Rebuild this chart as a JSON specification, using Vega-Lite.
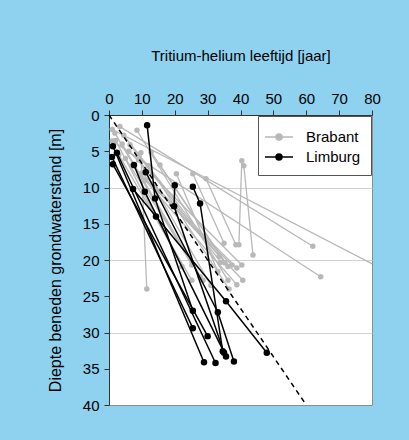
{
  "$schema": "https://vega.github.io/schema/vega-lite/v6.json",
  "width": 263,
  "height": 290,
  "autosize": {"type": "none"},
  "padding": {"left": 109, "top": 115, "right": 37, "bottom": 35},
  "background": "#8ed2f0",
  "config": {
    "font": "Liberation Sans",
    "view": {"fill": "white", "stroke": "#8c8c8c", "strokeWidth": 1}
  },
  "datasets": {
    "wells": [
      {"g": "Brabant", "w": "B1", "x": 1.0, "y": 2.0},
      {"g": "Brabant", "w": "B1", "x": 88.0, "y": 22.4},
      {"g": "Brabant", "w": "B2", "x": 1.0, "y": 3.6},
      {"g": "Brabant", "w": "B2", "x": 64.4, "y": 22.3},
      {"g": "Brabant", "w": "B3", "x": 3.3, "y": 1.6},
      {"g": "Brabant", "w": "B3", "x": 62.0, "y": 18.1},
      {"g": "Brabant", "w": "B4", "x": 1.8, "y": 2.5},
      {"g": "Brabant", "w": "B4", "x": 25.2, "y": 20.7},
      {"g": "Brabant", "w": "B5", "x": 2.0, "y": 3.5},
      {"g": "Brabant", "w": "B5", "x": 22.2, "y": 20.9},
      {"g": "Brabant", "w": "B6", "x": 4.0, "y": 4.0},
      {"g": "Brabant", "w": "B6", "x": 27.7, "y": 22.3},
      {"g": "Brabant", "w": "B7", "x": 3.0, "y": 5.5},
      {"g": "Brabant", "w": "B7", "x": 25.2, "y": 22.8},
      {"g": "Brabant", "w": "B8", "x": 5.0, "y": 6.0},
      {"g": "Brabant", "w": "B8", "x": 28.6, "y": 22.8},
      {"g": "Brabant", "w": "B9", "x": 6.4, "y": 4.1},
      {"g": "Brabant", "w": "B9", "x": 34.0, "y": 20.3},
      {"g": "Brabant", "w": "B10", "x": 9.7, "y": 5.2},
      {"g": "Brabant", "w": "B10", "x": 11.5, "y": 24.0},
      {"g": "Brabant", "w": "B11", "x": 12.8, "y": 5.1},
      {"g": "Brabant", "w": "B11", "x": 35.3, "y": 20.4},
      {"g": "Brabant", "w": "B12", "x": 8.5, "y": 2.1},
      {"g": "Brabant", "w": "B12", "x": 36.2, "y": 22.8},
      {"g": "Brabant", "w": "B13", "x": 15.5, "y": 6.9},
      {"g": "Brabant", "w": "B13", "x": 36.2, "y": 20.9},
      {"g": "Brabant", "w": "B14", "x": 20.5, "y": 8.1},
      {"g": "Brabant", "w": "B14", "x": 33.1, "y": 21.6},
      {"g": "Brabant", "w": "B15", "x": 25.5, "y": 8.1},
      {"g": "Brabant", "w": "B15", "x": 35.0, "y": 17.7},
      {"g": "Brabant", "w": "B16", "x": 29.5, "y": 8.8},
      {"g": "Brabant", "w": "B16", "x": 38.6, "y": 17.9},
      {"g": "Brabant", "w": "B17", "x": 40.4, "y": 6.3},
      {"g": "Brabant", "w": "B17", "x": 39.5, "y": 17.9},
      {"g": "Brabant", "w": "B18", "x": 41.0, "y": 7.0},
      {"g": "Brabant", "w": "B18", "x": 43.8, "y": 19.3},
      {"g": "Brabant", "w": "B19", "x": 7.0, "y": 7.0},
      {"g": "Brabant", "w": "B19", "x": 37.4, "y": 20.7},
      {"g": "Brabant", "w": "B20", "x": 10.0, "y": 8.0},
      {"g": "Brabant", "w": "B20", "x": 38.9, "y": 21.1},
      {"g": "Brabant", "w": "B21", "x": 6.0, "y": 5.0},
      {"g": "Brabant", "w": "B21", "x": 40.4, "y": 20.7},
      {"g": "Brabant", "w": "B22", "x": 11.0, "y": 9.0},
      {"g": "Brabant", "w": "B22", "x": 38.9, "y": 23.4},
      {"g": "Brabant", "w": "B23", "x": 14.0, "y": 10.0},
      {"g": "Brabant", "w": "B23", "x": 40.7, "y": 22.8},
      {"g": "Brabant", "w": "B24", "x": 12.0, "y": 7.0},
      {"g": "Brabant", "w": "B24", "x": 36.5, "y": 24.0},
      {"g": "Brabant", "w": "B25", "x": 4.5, "y": 2.8},
      {"g": "Brabant", "w": "B25", "x": 33.5, "y": 19.5},
      {"g": "Brabant", "w": "B26", "x": 9.0, "y": 6.2},
      {"g": "Brabant", "w": "B26", "x": 31.0, "y": 23.5},
      {"g": "Limburg", "w": "L1", "x": 11.6, "y": 1.4},
      {"g": "Limburg", "w": "L1", "x": 14.0, "y": 11.5},
      {"g": "Limburg", "w": "L1", "x": 25.5, "y": 27.0},
      {"g": "Limburg", "w": "L2", "x": 1.2, "y": 4.3},
      {"g": "Limburg", "w": "L2", "x": 28.9, "y": 34.1},
      {"g": "Limburg", "w": "L3", "x": 2.4, "y": 5.2},
      {"g": "Limburg", "w": "L3", "x": 32.4, "y": 34.2},
      {"g": "Limburg", "w": "L4", "x": 0.9, "y": 5.8},
      {"g": "Limburg", "w": "L4", "x": 25.5, "y": 29.4},
      {"g": "Limburg", "w": "L5", "x": 1.2, "y": 6.8},
      {"g": "Limburg", "w": "L5", "x": 30.0, "y": 30.5},
      {"g": "Limburg", "w": "L6", "x": 7.6, "y": 6.9},
      {"g": "Limburg", "w": "L6", "x": 10.9, "y": 10.6},
      {"g": "Limburg", "w": "L6", "x": 35.6, "y": 33.3},
      {"g": "Limburg", "w": "L7", "x": 11.2, "y": 7.9},
      {"g": "Limburg", "w": "L7", "x": 33.1, "y": 27.2},
      {"g": "Limburg", "w": "L7", "x": 38.0, "y": 34.0},
      {"g": "Limburg", "w": "L8", "x": 7.3, "y": 10.2},
      {"g": "Limburg", "w": "L8", "x": 14.3, "y": 14.0},
      {"g": "Limburg", "w": "L8", "x": 35.6, "y": 25.7},
      {"g": "Limburg", "w": "L8", "x": 48.0, "y": 32.8},
      {"g": "Limburg", "w": "L9", "x": 20.0, "y": 9.7},
      {"g": "Limburg", "w": "L9", "x": 19.8, "y": 12.6},
      {"g": "Limburg", "w": "L9", "x": 35.0, "y": 32.8},
      {"g": "Limburg", "w": "L10", "x": 25.5, "y": 9.9},
      {"g": "Limburg", "w": "L10", "x": 27.7, "y": 12.2},
      {"g": "Limburg", "w": "L10", "x": 34.6, "y": 32.6}
    ],
    "trend": [{"x": 0, "y": 0}, {"x": 60, "y": 40}]
  },
  "encoding": {
    "x": {
      "field": "x", "type": "quantitative",
      "scale": {"domain": [0, 80], "nice": false, "zero": false},
      "axis": {
        "orient": "top", "values": [0, 10, 20, 30, 40, 50, 60, 70, 80],
        "title": "Tritium-helium leeftijd [jaar]",
        "labelFontSize": 15, "titleFontSize": 15, "titleFontWeight": "normal",
        "labelColor": "black", "titleColor": "black",
        "domainColor": "#333", "tickColor": "#333", "tickSize": 5,
        "labelPadding": 4, "titlePadding": 28, "grid": false, "labelAngle": 0, "labelFlush": false
      }
    },
    "y": {
      "field": "y", "type": "quantitative",
      "scale": {"domain": [0, 40], "nice": false, "reverse": true, "zero": false},
      "axis": {
        "values": [0, 5, 10, 15, 20, 25, 30, 35, 40],
        "title": "Diepte beneden grondwaterstand [m]",
        "labelFontSize": 15, "titleFontSize": 16, "titleFontWeight": "normal",
        "labelColor": "black", "titleColor": "black",
        "domainColor": "#333", "tickColor": "#333", "tickSize": 5,
        "labelPadding": 5, "titlePadding": 19, "labelFlush": false,
        "grid": true, "gridColor": "#d2d2d2", "gridWidth": 1,
        "gridOpacity": {"condition": {"test": "datum.value === 10 || datum.value === 20 || datum.value === 30", "value": 1}, "value": 0}
      }
    }
  },
  "layer": [
    {
      "data": {"name": "wells"},
      "transform": [{"filter": "datum.g === 'Brabant'"}],
      "mark": {"type": "line", "strokeWidth": 1.3, "clip": true},
      "encoding": {
        "detail": {"field": "w"},
        "order": {"field": "y"},
        "color": {
          "field": "g", "type": "nominal",
          "scale": {"domain": ["Brabant", "Limburg"], "range": ["#b8b8b8", "#000000"]},
          "legend": {
            "orient": "top-right", "offset": 1, "title": null,
            "fillColor": "white", "strokeColor": "#555", "padding": 10,
            "labelFontSize": 15, "labelColor": "black", "labelOffset": 16, "rowPadding": 1,
            "symbolType": "M-1.4,0H1.4M0.3,0A0.3,0.3 0 1 1 -0.3,0A0.3,0.3 0 1 1 0.3,0Z",
            "symbolSize": 400, "symbolStrokeWidth": 1.5
          }
        }
      }
    },
    {
      "data": {"name": "wells"},
      "transform": [{"filter": "datum.g === 'Brabant'"}],
      "mark": {"type": "point", "filled": true, "size": 30, "opacity": 1, "clip": true},
      "encoding": {"color": {"field": "g", "type": "nominal"}}
    },
    {
      "data": {"name": "wells"},
      "transform": [{"filter": "datum.g === 'Limburg'"}],
      "mark": {"type": "line", "strokeWidth": 1.5, "clip": true},
      "encoding": {
        "detail": {"field": "w"},
        "order": {"field": "y"},
        "color": {"field": "g", "type": "nominal"}
      }
    },
    {
      "data": {"name": "wells"},
      "transform": [{"filter": "datum.g === 'Limburg'"}],
      "mark": {"type": "point", "filled": true, "size": 42, "opacity": 1, "clip": true},
      "encoding": {"color": {"field": "g", "type": "nominal"}}
    },
    {
      "data": {"name": "trend"},
      "mark": {"type": "line", "color": "black", "strokeWidth": 1.5, "strokeDash": [5, 4]},
      "encoding": {}
    }
  ]
}
